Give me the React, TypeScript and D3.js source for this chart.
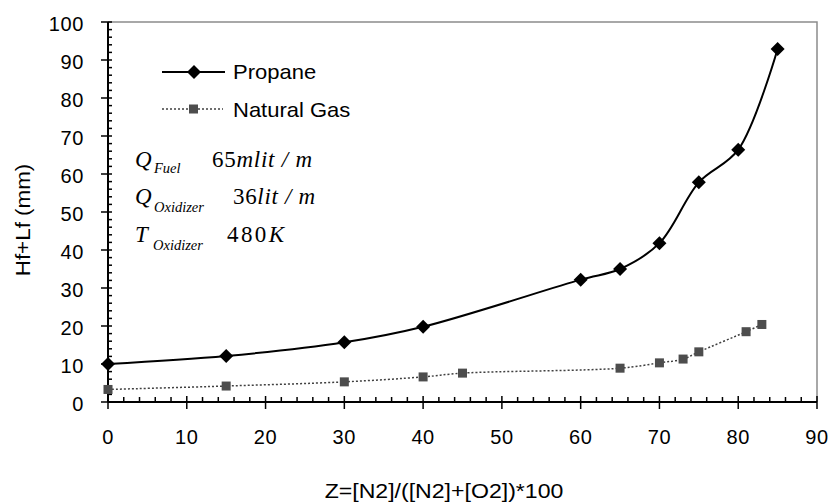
import React from "react";
import * as d3 from "d3";

const propaneX = [0, 15, 30, 40, 60, 65, 70, 75, 80, 85];
const propaneY = [10, 12.1, 15.7, 19.8, 32.2, 35.0, 41.8, 57.8, 66.4, 92.9];
const gasX = [0, 15, 30, 40, 45, 65, 70, 73, 75, 81, 83];
const gasY = [3.3, 4.2, 5.3, 6.6, 7.6, 8.9, 10.3, 11.3, 13.2, 18.5, 20.4];
const xTicks = [0, 10, 20, 30, 40, 50, 60, 70, 80, 90];
const yTicks = [0, 10, 20, 30, 40, 50, 60, 70, 80, 90, 100];
const seriesNames = ["Propane", "Natural Gas"];
const xTitle = "Z=[N2]/([N2]+[O2])*100";
const yTitle = "Hf+Lf (mm)";

const W = 831, H = 504;
const L = 108, R = 817, T = 22, B = 402;
const SANS = "'Liberation Sans', Arial, sans-serif";
const SERIF = "'Liberation Serif', 'Times New Roman', serif";

export default function App() {
  const x = d3.scaleLinear().domain([0, 90]).range([L, R]);
  const y = d3.scaleLinear().domain([0, 100]).range([B, T]);
  const line = d3
    .line<[number, number]>()
    .x((d) => x(d[0]))
    .y((d) => y(d[1]))
    .curve(d3.curveCatmullRom.alpha(0.5));
  const pData: [number, number][] = propaneX.map((v, i) => [v, propaneY[i]]);
  const gData: [number, number][] = gasX.map((v, i) => [v, gasY[i]]);
  const minorX = d3.range(0, 90.01, 2).filter((v) => v % 10 !== 0);
  const minorY = d3.range(0, 100.01, 2).filter((v) => v % 10 !== 0);
  const diamond = (cx: number, cy: number, r = 7) =>
    `M${cx},${cy - r}L${cx + r},${cy}L${cx},${cy + r}L${cx - r},${cy}Z`;

  return (
    <svg width={W} height={H} style={{ position: "absolute", left: 0, top: 0, background: "#fff" }}>
      <rect x={0} y={0} width={W} height={H} fill="#fff" />
      {/* plot border */}
      <path d={`M${L},${T}H${R}V${B}`} fill="none" stroke="#8c8c8c" strokeWidth={1.5} />
      {/* axes */}
      <line x1={L} x2={R} y1={B} y2={B} stroke="#000" strokeWidth={2} />
      <line x1={L} x2={L} y1={B} y2={T} stroke="#000" strokeWidth={2} />
      {xTicks.map((t) => (
        <line key={"xt" + t} x1={x(t)} x2={x(t)} y1={B - 6} y2={B + 7} stroke="#000" strokeWidth={1.5} />
      ))}
      {minorX.map((t) => (
        <line key={"xm" + t} x1={x(t)} x2={x(t)} y1={B - 5} y2={B} stroke="#000" strokeWidth={1.5} />
      ))}
      {yTicks.map((t) => (
        <line key={"yt" + t} x1={L - 7} x2={L + 4} y1={y(t)} y2={y(t)} stroke="#000" strokeWidth={1.5} />
      ))}
      {minorY.map((t) => (
        <line key={"ym" + t} x1={L} x2={L + 4} y1={y(t)} y2={y(t)} stroke="#000" strokeWidth={1.5} />
      ))}
      {xTicks.map((t) => (
        <text key={"xl" + t} x={x(t)} y={444} textAnchor="middle" fontFamily={SANS} fontSize={20} letterSpacing={0.6} fill="#000">
          {t}
        </text>
      ))}
      {yTicks.map((t) => (
        <text key={"yl" + t} x={84} y={y(t) + 2} dy="0.36em" textAnchor="end" fontFamily={SANS} fontSize={20} letterSpacing={0.6} fill="#000">
          {t}
        </text>
      ))}
      <text transform={`translate(444,498) scale(1.1,1)`} textAnchor="middle" fontFamily={SANS} fontSize={21} fill="#000">
        {xTitle}
      </text>
      <text transform={`translate(30,220) rotate(-90) scale(1.12,1)`} textAnchor="middle" fontFamily={SANS} fontSize={20} fill="#000">
        {yTitle}
      </text>

      {/* series */}
      <path d={line(gData) || ""} fill="none" stroke="#404040" strokeWidth={1.5} strokeDasharray="2,2" />
      {gData.map((d, i) => (
        <rect key={"g" + i} x={x(d[0]) - 4.5} y={y(d[1]) - 4.5} width={9} height={9} fill="#4d4d4d" />
      ))}
      <path d={line(pData) || ""} fill="none" stroke="#000" strokeWidth={2} />
      {pData.map((d, i) => (
        <path key={"p" + i} d={diamond(x(d[0]), y(d[1]))} fill="#000" />
      ))}

      {/* legend */}
      <line x1={162} x2={225} y1={72} y2={72} stroke="#000" strokeWidth={2} />
      <path d={diamond(194, 72)} fill="#000" />
      <text transform="translate(233,79) scale(1.1,1)" fontFamily={SANS} fontSize={20} fill="#000">
        {seriesNames[0]}
      </text>
      <line x1={162} x2={223} y1={109} y2={109} stroke="#404040" strokeWidth={1.5} strokeDasharray="2,2" />
      <rect x={189} y={104.5} width={9} height={9} fill="#4d4d4d" />
      <text transform="translate(233,117) scale(1.1,1)" fontFamily={SANS} fontSize={20} fill="#000">
        {seriesNames[1]}
      </text>

      {/* annotations */}
      <g fontFamily={SERIF} fill="#000">
        <text x={135} y={166.5} fontSize={23} fontStyle="italic">Q</text>
        <text x={154} y={172.5} fontSize={14.5} fontStyle="italic">Fuel</text>
        <text x={212} y={166.5} fontSize={23} textLength={100} lengthAdjust="spacing">
          <tspan>65</tspan>
          <tspan fontStyle="italic">mlit / m</tspan>
        </text>

        <text x={135} y={203.5} fontSize={23} fontStyle="italic">Q</text>
        <text x={154} y={211.5} fontSize={14.5} fontStyle="italic">Oxidizer</text>
        <text x={233} y={203.5} fontSize={23} textLength={82} lengthAdjust="spacing">
          <tspan>36</tspan>
          <tspan fontStyle="italic">lit / m</tspan>
        </text>

        <text x={135} y={241.5} fontSize={23} fontStyle="italic">T</text>
        <text x={153} y={250} fontSize={14.5} fontStyle="italic">Oxidizer</text>
        <text x={227} y={241.5} fontSize={23} textLength={57} lengthAdjust="spacing">
          <tspan>480</tspan>
          <tspan fontStyle="italic">K</tspan>
        </text>
      </g>
    </svg>
  );
}
